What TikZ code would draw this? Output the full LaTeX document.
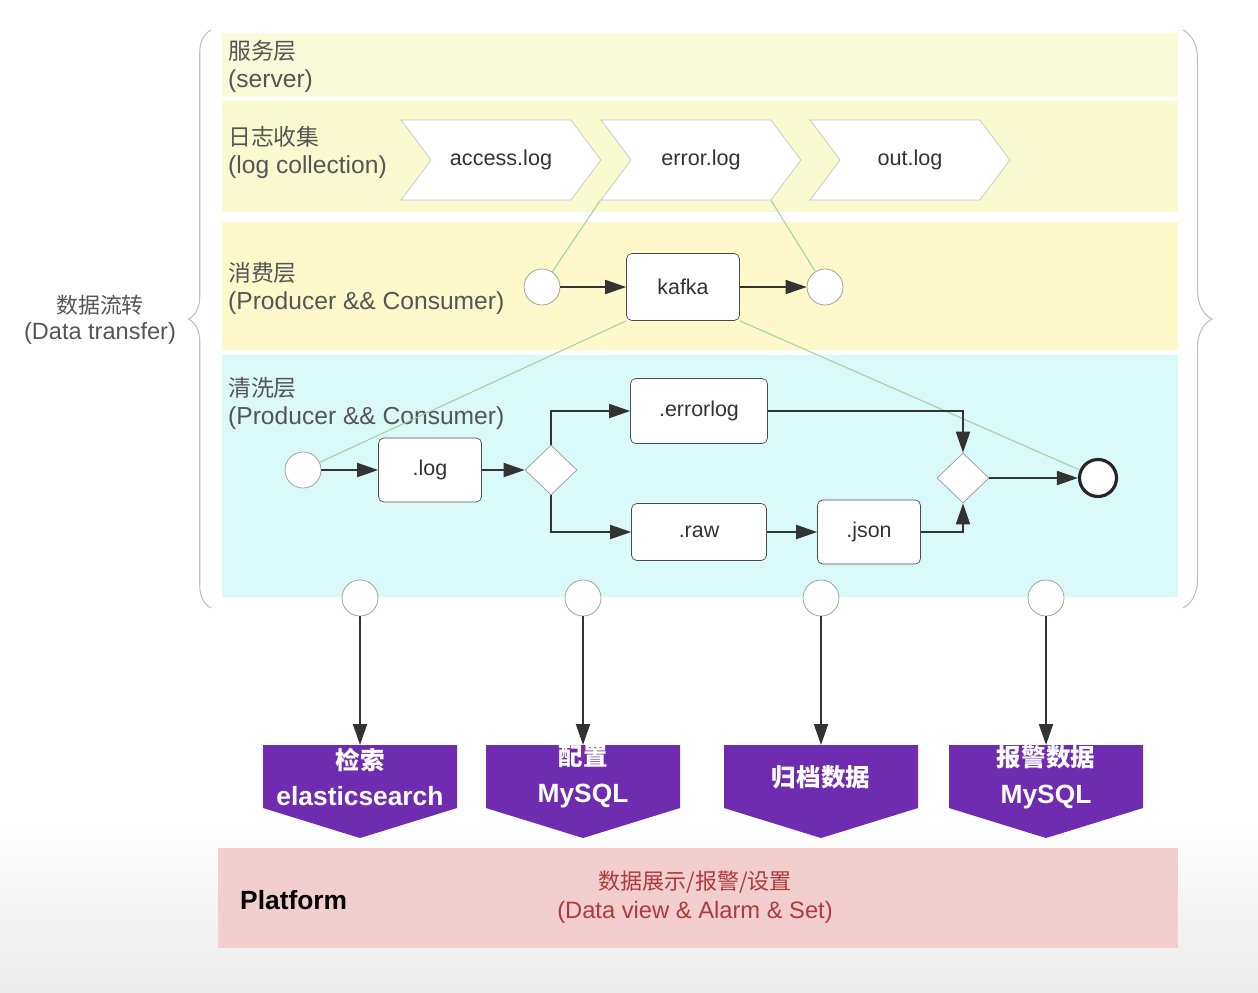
\documentclass[tikz,border=0pt]{standalone}
\usepackage{fontspec}
\setmainfont{Liberation Sans}
\newfontfamily\cjk[Scale=0.93]{Noto Sans CJK SC}
\usepackage{tikz}
\usetikzlibrary{shapes.geometric,shapes.symbols,arrows.meta,positioning,calc,decorations.pathreplacing}

\definecolor{serverband}{RGB}{249,250,216}
\definecolor{logband}{RGB}{250,250,208}
\definecolor{consband}{RGB}{253,249,202}
\definecolor{cleanband}{RGB}{218,249,249}
\definecolor{platband}{RGB}{242,206,206}
\definecolor{sinkpurple}{RGB}{112,44,176}
\definecolor{labelgray}{RGB}{85,85,85}
\definecolor{linkgreen}{RGB}{160,212,165}
\definecolor{platred}{RGB}{176,58,58}

\begin{document}
\begin{tikzpicture}[
x=0.02cm, y=-0.02cm,
layerlabel/.style={
    anchor=west,
    align=left,
    text=labelgray,
    font=\fontsize{14}{16}\selectfont
},
logfile/.style={
    signal,
    signal from=west,
    signal to=east,
    signal pointer angle=106,
    draw=gray!45,
    fill=white,
    minimum width=4cm,
    minimum height=1.6cm,
    inner sep=0pt,
    text=black!80,
    font=\fontsize{12.3}{14}\selectfont
},
event/.style={
    circle,
    draw=gray!80,
    fill=white,
    minimum size=0.72cm,
    inner sep=0pt
},
endevent/.style={
    event,
    draw=black!85,
    line width=1.8pt,
    minimum size=0.74cm
},
task/.style={
    draw=black!70,
    fill=white,
    rounded corners=3pt,
    text=black!80,
    font=\fontsize{12.2}{14}\selectfont
},
gateway/.style={
    diamond,
    draw=gray!80,
    fill=white,
    minimum width=1.04cm,
    minimum height=1.0cm,
    inner sep=0pt
},
sink/.style={
    text=white,
    align=center,
    inner sep=0pt,
    font=\fontsize{15}{21}\selectfont\bfseries
},
flow/.style={
    -{Triangle[length=0.42cm,width=0.28cm]},
    line width=1.1pt,
    draw=black!80
},
link/.style={
    draw=linkgreen,
    line width=0.6pt
},
layerbrace/.style={
    decorate,
    draw=gray!50,
    line width=0.6pt
}
]
\useasboundingbox (0,0) rectangle (1258,992);

% background and layer bands
\shade[top color=white, bottom color=gray!16] (0,820) rectangle (1258,992);
\fill[serverband] (222,33) rectangle (1178,97);
\fill[logband] (222,101) rectangle (1178,212);
\fill[consband] (222,222) rectangle (1178,350);
\fill[cleanband] (222,355) rectangle (1178,597);
\fill[platband] (218,848) rectangle (1178,948);

% braces
\draw[layerbrace, decoration={brace, amplitude=0.45cm}] (211,608) -- (211,30);
\draw[layerbrace, decoration={brace, amplitude=0.58cm}] (1183,30) -- (1183,608);
\node[align=center, text=labelgray, font=\fontsize{13.4}{15}\selectfont] (transfer) at (100,320)
{{\cjk 数据流转}\\(Data transfer)};

% layer labels
\node[layerlabel] (lserver) at (222,66) {{\cjk 服务层}\\(server)};
\node[layerlabel] (lcollect) at (222,152) {{\cjk 日志收集}\\(log collection)};
\node[layerlabel] (lconsume) at (222,288) {{\cjk 消费层}\\(Producer \&\& Consumer)};
\node[layerlabel] (lclean) at (222,403) {{\cjk 清洗层}\\(Producer \&\& Consumer)};

% log collection
\node[logfile] (access) at (501,160) {access.log};
\node[logfile] (errorlog) at (701,160) {error.log};
\node[logfile] (outlog) at (910,160) {out.log};

% consumer layer
\node[event] (cin) at (542,287) {};
\node[task, minimum width=2.26cm, minimum height=1.34cm] (kafka) at (683,287) {kafka};
\node[event] (cout) at (825,287) {};

% cleaning layer
\node[event] (cstart) at (303,470) {};
\node[task, minimum width=2.06cm, minimum height=1.28cm] (dotlog) at (430,470) {.log};
\node[gateway] (gsplit) at (551,470) {};
\node[task, minimum width=2.74cm, minimum height=1.3cm] (errlog) at (699,411) {.errorlog};
\node[task, minimum width=2.7cm, minimum height=1.14cm] (raw) at (699,532) {.raw};
\node[task, minimum width=2.06cm, minimum height=1.28cm] (json) at (869,532) {.json};
\node[gateway] (gmerge) at (963,478) {};
\node[endevent] (cend) at (1098,478) {};

% outputs
\node[event] (s1) at (360,598) {};
\node[event] (s2) at (583,598) {};
\node[event] (s3) at (821,598) {};
\node[event] (s4) at (1046,598) {};

\foreach \x/\n in {360/search,583/config,821/archive,1046/alarm}{
  \fill[sinkpurple] (\x-97,745) -- (\x+97,745) -- (\x+97,808) -- (\x,838)
    -- (\x-97,808) -- cycle;
  \coordinate (\n-top) at (\x,745);
}
\node[sink] (search) at (360,777) {{\cjk 检索}\\elasticsearch};
\node[sink] (config) at (583,777) {{\cjk 配置}\\MySQL};
\node[sink] (archive) at (821,777) {{\cjk 归档数据}};
\node[sink] (alarm) at (1046,777) {{\cjk 报警数据}\\MySQL};

% platform
\node[anchor=west, font=\fontsize{15}{17}\selectfont\bfseries] (platform) at (234,900) {Platform};
\node[align=center, text=platred, font=\fontsize{13.5}{16.5}\selectfont] (platdesc) at (695,897)
{{\cjk 数据展示/报警/设置}\\(Data view \& Alarm \& Set)};

% expansion links
\draw[link] (errorlog.south west) -- (cin);
\draw[link] (errorlog.south east) -- (cout);
\draw[link] (kafka.south west) -- (cstart);
\draw[link] (kafka.south east) -- (cend);

% flows
\draw[flow] (cin) -- (kafka);
\draw[flow] (kafka) -- (cout);
\draw[flow] (cstart) -- (dotlog);
\draw[flow] (dotlog) -- (gsplit);
\draw[flow] (gsplit.north) |- (errlog.west);
\draw[flow] (gsplit.south) |- (raw.west);
\draw[flow] (raw) -- (json);
\draw[flow] (errlog.east) -| (gmerge.north);
\draw[flow] (json.east) -| (gmerge.south);
\draw[flow] (gmerge) -- (cend);

\draw[flow] (s1) -- (search-top);
\draw[flow] (s2) -- (config-top);
\draw[flow] (s3) -- (archive-top);
\draw[flow] (s4) -- (alarm-top);

\end{tikzpicture}
\end{document}
